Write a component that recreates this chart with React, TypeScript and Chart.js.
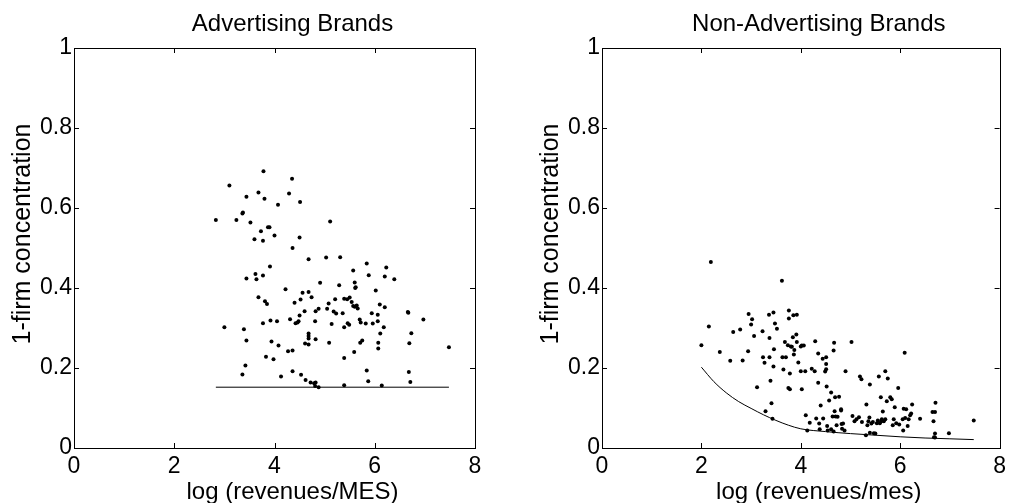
import React, { useEffect, useRef } from "react";
import { Chart, registerables } from "chart.js";

Chart.register(...registerables);

// ---- Advertising brands: log(revenues/MES) vs 1-firm concentration ----
const advX = [
  2.83, 3.10, 3.00, 3.24, 3.36, 3.37, 3.44, 3.52, 3.68, 3.78, 3.80, 3.73, 3.87, 3.90, 3.60, 3.77,
  4.00, 4.07, 4.29, 4.35, 4.51, 4.50, 4.36, 5.11, 4.68, 5.03, 5.31, 3.91, 3.62, 3.64, 3.44, 3.77,
  5.57, 5.84, 6.23, 5.88, 6.20, 6.39, 4.91, 5.60, 5.62, 5.61, 5.29, 4.22, 6.02, 3.68, 3.81, 3.85,
  4.56, 4.68, 4.74, 4.40, 4.52, 5.21, 5.39, 5.45, 5.50, 5.08, 5.54, 5.57, 5.60, 5.64, 5.66, 6.10,
  6.20, 5.05, 4.88, 4.82, 4.60, 4.50, 5.18, 5.23, 5.36, 5.94, 6.06, 6.66, 6.67, 6.97, 3.92, 4.05,
  3.77, 4.31, 4.46, 4.48, 4.42, 4.81, 5.14, 5.46, 5.49, 5.70, 5.72, 5.82, 5.96, 6.06, 6.18, 5.39,
  3.39, 6.73, 6.11, 3.44, 3.94, 4.08, 4.68, 4.68, 4.68, 4.61, 4.68, 4.82, 5.09, 5.71, 5.75, 6.07,
  6.07, 6.69, 7.48, 4.27, 4.36, 5.59, 3.83, 3.98, 5.39, 3.42, 3.36, 4.13, 4.36, 4.53, 4.62, 4.72,
  4.79, 4.82, 4.81, 4.88, 5.84, 5.87, 5.39, 6.14, 6.68, 6.71,
];
const advY = [
  0.570, 0.656, 0.302, 0.570, 0.586, 0.589, 0.628, 0.564, 0.639, 0.692, 0.623, 0.542, 0.552, 0.552, 0.522, 0.518,
  0.531, 0.608, 0.636, 0.673, 0.615, 0.526, 0.500, 0.566, 0.472, 0.476, 0.477, 0.454, 0.435, 0.422, 0.424, 0.431,
  0.444, 0.461, 0.451, 0.432, 0.429, 0.422, 0.413, 0.414, 0.402, 0.400, 0.407, 0.397, 0.394, 0.377, 0.367, 0.360,
  0.388, 0.390, 0.377, 0.363, 0.371, 0.372, 0.373, 0.372, 0.376, 0.361, 0.365, 0.355, 0.353, 0.356, 0.349, 0.359,
  0.352, 0.348, 0.348, 0.342, 0.342, 0.331, 0.341, 0.336, 0.337, 0.337, 0.333, 0.340, 0.338, 0.321, 0.319, 0.317,
  0.312, 0.322, 0.314, 0.317, 0.312, 0.317, 0.310, 0.312, 0.308, 0.321, 0.314, 0.311, 0.311, 0.317, 0.302, 0.302,
  0.297, 0.287, 0.286, 0.269, 0.266, 0.256, 0.286, 0.280, 0.274, 0.261, 0.259, 0.272, 0.263, 0.263, 0.269, 0.263,
  0.249, 0.262, 0.252, 0.242, 0.244, 0.240, 0.228, 0.222, 0.225, 0.206, 0.184, 0.179, 0.192, 0.183, 0.170, 0.164,
  0.162, 0.164, 0.155, 0.152, 0.194, 0.167, 0.157, 0.156, 0.190, 0.165,
];
// Lower bound for advertising brands (flat)
const advBoundX = [2.83, 7.48];
const advBoundY = [0.152, 0.152];

// ---- Non-advertising brands: log(revenues/mes) vs 1-firm concentration ----
const nonAdvX = [
  2.19, 3.62, 2.00, 2.15, 2.37, 2.58, 2.64, 2.78, 2.83, 2.94, 2.95, 3.00, 3.02, 3.06, 3.12, 3.23,
  3.24, 3.27, 3.29, 3.36, 3.37, 3.37, 3.39, 3.41, 3.43, 3.45, 3.45, 3.46, 3.48, 3.52, 3.63, 3.65,
  3.68, 3.70, 3.74, 3.76, 3.76, 3.75, 3.78, 3.80, 3.78, 3.82, 3.84, 3.85, 3.86, 3.87, 3.91, 3.92,
  3.92, 3.95, 4.00, 4.00, 4.02, 4.02, 4.06, 4.09, 4.10, 4.13, 4.18, 4.22, 4.28, 4.29, 4.31, 4.35,
  4.35, 4.37, 4.38, 4.40, 4.44, 4.45, 4.49, 4.51, 4.51, 4.51, 4.52, 4.53, 4.54, 4.57, 4.61, 4.61,
  4.64, 4.66, 4.66, 4.67, 4.68, 4.69, 4.70, 4.72, 4.74, 4.77, 4.81, 4.81, 4.82, 4.83, 4.85, 4.88,
  4.90, 5.02, 5.04, 5.08, 5.12, 5.17, 5.19, 5.22, 5.23, 5.31, 5.32, 5.34, 5.36, 5.38, 5.39, 5.39,
  5.42, 5.45, 5.47, 5.50, 5.53, 5.55, 5.57, 5.59, 5.61, 5.62, 5.63, 5.65, 5.67, 5.70, 5.70, 5.73,
  5.75, 5.80, 5.83, 5.85, 5.87, 5.89, 5.92, 5.96, 5.98, 6.05, 6.06, 6.07, 6.09, 6.12, 6.10, 6.15,
  6.17, 6.20, 6.22, 6.24, 6.40, 6.65, 6.67, 6.70, 6.71, 6.70, 6.68, 6.70, 6.98, 7.48,
];
const nonAdvY = [
  0.465, 0.418, 0.257, 0.304, 0.240, 0.218, 0.290, 0.296, 0.219, 0.242, 0.335, 0.309, 0.322, 0.280, 0.152, 0.292,
  0.227, 0.213, 0.092, 0.333, 0.227, 0.275, 0.168, 0.112, 0.073, 0.339, 0.204, 0.247, 0.311, 0.298, 0.227, 0.196,
  0.265, 0.227, 0.257, 0.344, 0.324, 0.150, 0.186, 0.254, 0.147, 0.253, 0.277, 0.332, 0.234, 0.245, 0.284, 0.333,
  0.265, 0.214, 0.192, 0.254, 0.147, 0.256, 0.256, 0.192, 0.082, 0.044, 0.063, 0.198, 0.192, 0.267, 0.074, 0.163,
  0.236, 0.061, 0.047, 0.106, 0.223, 0.074, 0.191, 0.210, 0.197, 0.227, 0.154, 0.055, 0.044, 0.119, 0.139, 0.047,
  0.079, 0.041, 0.244, 0.263, 0.092, 0.127, 0.079, 0.057, 0.078, 0.128, 0.094, 0.097, 0.060, 0.048, 0.061, 0.044,
  0.192, 0.265, 0.080, 0.067, 0.072, 0.077, 0.179, 0.172, 0.065, 0.032, 0.109, 0.057, 0.067, 0.076, 0.159, 0.038,
  0.061, 0.065, 0.037, 0.036, 0.062, 0.069, 0.179, 0.062, 0.127, 0.067, 0.072, 0.091, 0.067, 0.072, 0.192, 0.117,
  0.174, 0.127, 0.122, 0.057, 0.072, 0.102, 0.062, 0.150, 0.059, 0.072, 0.044, 0.098, 0.238, 0.097, 0.075, 0.055,
  0.072, 0.082, 0.086, 0.109, 0.073, 0.090, 0.067, 0.090, 0.113, 0.036, 0.027, 0.026, 0.037, 0.069,
];
// Lower bound for non-advertising brands (decreasing curve)
const nonAdvBoundX = [2.0, 2.25, 2.5, 2.75, 3.0, 3.25, 3.5, 3.75, 4.0, 4.5, 5.0, 5.5, 6.0, 6.5, 7.0, 7.48];
const nonAdvBoundY = [0.202, 0.166, 0.138, 0.116, 0.099, 0.083, 0.069, 0.057, 0.048, 0.041, 0.036, 0.032, 0.028, 0.025, 0.023, 0.021];

// Axis ticks
const xTickValues = [0, 2, 4, 6, 8];
const yTickValues = [0, 0.2, 0.4, 0.6, 0.8, 1];

const FONT = "'Liberation Sans', Arial, Helvetica, sans-serif";

const toPoints = (xs: number[], ys: number[]) => xs.map((x, i) => ({ x, y: ys[i] }));

// Draws the axes box, inward tick marks on all four sides and the text titles.
const frameDecor = {
  id: "frameDecor",
  afterDraw(chart: any, _args: any, opts: any) {
    const { ctx, chartArea: a, scales } = chart;
    ctx.save();
    ctx.strokeStyle = "#000";
    ctx.lineWidth = 1;
    ctx.strokeRect(Math.round(a.left) + 0.5, Math.round(a.top) + 0.5, Math.round(a.right - a.left), Math.round(a.bottom - a.top));
    const tl = 5;
    ctx.beginPath();
    for (const v of xTickValues) {
      const px = Math.round(scales.x.getPixelForValue(v)) + 0.5;
      ctx.moveTo(px, a.bottom);
      ctx.lineTo(px, a.bottom - tl);
      ctx.moveTo(px, a.top);
      ctx.lineTo(px, a.top + tl);
    }
    for (const v of yTickValues) {
      const py = Math.round(scales.y.getPixelForValue(v)) + 0.5;
      ctx.moveTo(a.left, py);
      ctx.lineTo(a.left + tl, py);
      ctx.moveTo(a.right, py);
      ctx.lineTo(a.right - tl, py);
    }
    ctx.stroke();

    const cx = (a.left + a.right) / 2 + 18;
    const cy = (a.top + a.bottom) / 2 - 14;
    ctx.fillStyle = "#000";
    ctx.textAlign = "center";
    ctx.textBaseline = "alphabetic";
    ctx.font = `24px ${FONT}`;
    ctx.fillText(opts.title, cx, 31);
    ctx.fillText(opts.xTitle, cx, 499);
    ctx.save();
    ctx.translate(a.left - 44, cy);
    ctx.rotate(-Math.PI / 2);
    ctx.font = `25px ${FONT}`;
    ctx.fillText(opts.yTitle, 0, 0);
    ctx.restore();
    ctx.restore();
  },
};

function makeConfig(
  pts: { x: number; y: number }[],
  bound: { x: number; y: number }[],
  curved: boolean,
  yAxisWidth: number,
  rightPad: number,
  title: string,
  xTitle: string,
) {
  return {
    type: "scatter" as const,
    data: {
      datasets: [
        {
          data: pts,
          backgroundColor: "#000",
          borderWidth: 0,
          pointRadius: 2,
          showLine: false,
        },
        {
          data: bound,
          showLine: true,
          borderColor: "#000",
          borderWidth: 1,
          pointRadius: 0,
          cubicInterpolationMode: curved ? ("monotone" as const) : ("default" as const),
        },
      ],
    },
    options: {
      animation: false as const,
      responsive: false,
      devicePixelRatio: 1,
      events: [],
      layout: { padding: { left: 0, right: rightPad, top: 48, bottom: 0 } },
      plugins: {
        legend: { display: false },
        tooltip: { enabled: false },
        frameDecor: { title, xTitle, yTitle: "1-firm concentration" },
      },
      scales: {
        x: {
          type: "linear" as const,
          min: 0,
          max: 8,
          afterFit: (s: any) => {
            s.height = 55;
          },
          afterBuildTicks: (s: any) => {
            s.ticks = xTickValues.map((value) => ({ value }));
          },
          grid: { display: false, drawTicks: false },
          border: { display: false },
          ticks: {
            padding: 5,
            color: "#000",
            font: { family: FONT, size: 23 },
            maxRotation: 0,
            callback: (v: any) => String(v),
          },
        },
        y: {
          type: "linear" as const,
          min: 0,
          max: 1,
          afterFit: (s: any) => {
            s.width = yAxisWidth;
          },
          afterBuildTicks: (s: any) => {
            s.ticks = yTickValues.map((value) => ({ value }));
          },
          grid: { display: false, drawTicks: false },
          border: { display: false },
          ticks: {
            padding: 2,
            color: "#000",
            font: { family: FONT, size: 23 },
            callback: (v: any) => String(Math.round(Number(v) * 10) / 10),
          },
        },
      },
    },
    plugins: [frameDecor],
  };
}

function Panel(props: { left: number; width: number; config: any }) {
  const ref = useRef<HTMLCanvasElement | null>(null);
  useEffect(() => {
    if (!ref.current) return;
    const chart = new Chart(ref.current, props.config);
    return () => chart.destroy();
  }, []);
  return (
    <canvas
      ref={ref}
      width={props.width}
      height={503}
      style={{ position: "absolute", left: props.left, top: 0, width: props.width, height: 503 }}
    />
  );
}

export default function App() {
  const leftCfg = makeConfig(
    toPoints(advX, advY),
    toPoints(advBoundX, advBoundY),
    false,
    74,
    30,
    "Advertising Brands",
    "log (revenues/MES)",
  );
  const rightCfg = makeConfig(
    toPoints(nonAdvX, nonAdvY),
    toPoints(nonAdvBoundX, nonAdvBoundY),
    true,
    97,
    7,
    "Non-Advertising Brands",
    "log (revenues/mes)",
  );
  return (
    <div style={{ position: "fixed", left: 0, top: 0, width: 1011, height: 503, background: "#fff", overflow: "hidden" }}>
      <Panel left={0} width={505} config={leftCfg} />
      <Panel left={505} width={506} config={rightCfg} />
    </div>
  );
}
